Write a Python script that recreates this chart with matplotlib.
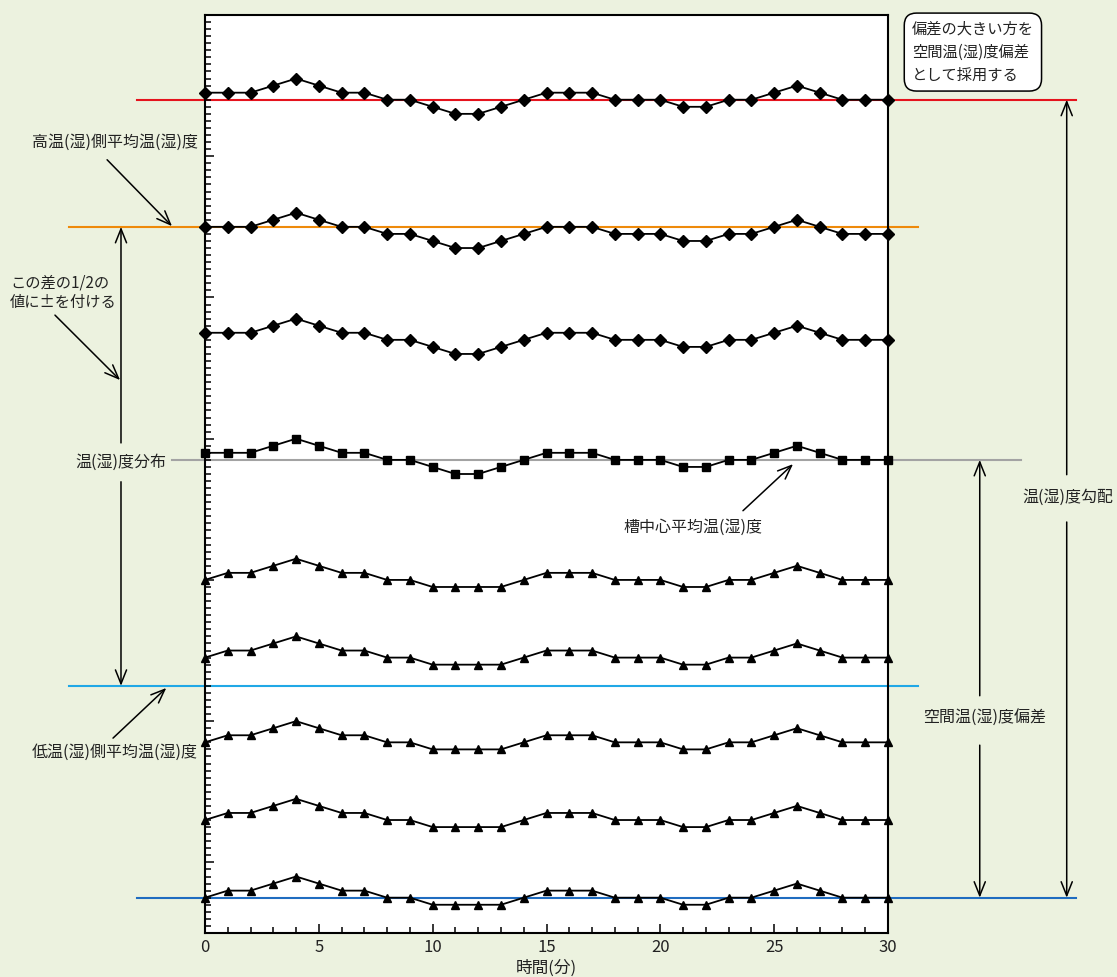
import matplotlib.pyplot as plt
from matplotlib.ticker import MultipleLocator

plt.rcParams['font.family'] = ['Noto Sans CJK JP', 'DejaVu Sans']

# time axis (minutes)
minutes = list(range(31))

# measured series, top to bottom (units = one minor tick)
diamond_1 = [119, 119, 119, 120, 121, 120, 119, 119, 118, 118, 117, 116, 116, 117, 118,
             119, 119, 119, 118, 118, 118, 117, 117, 118, 118, 119, 120, 119, 118, 118, 118]
diamond_2 = [100, 100, 100, 101, 102, 101, 100, 100, 99, 99, 98, 97, 97, 98, 99,
             100, 100, 100, 99, 99, 99, 98, 98, 99, 99, 100, 101, 100, 99, 99, 99]
diamond_3 = [85, 85, 85, 86, 87, 86, 85, 85, 84, 84, 83, 82, 82, 83, 84,
             85, 85, 85, 84, 84, 84, 83, 83, 84, 84, 85, 86, 85, 84, 84, 84]
square_1 = [68, 68, 68, 69, 70, 69, 68, 68, 67, 67, 66, 65, 65, 66, 67,
            68, 68, 68, 67, 67, 67, 66, 66, 67, 67, 68, 69, 68, 67, 67, 67]
triangle_1 = [50, 51, 51, 52, 53, 52, 51, 51, 50, 50, 49, 49, 49, 49, 50,
              51, 51, 51, 50, 50, 50, 49, 49, 50, 50, 51, 52, 51, 50, 50, 50]
triangle_2 = [39, 40, 40, 41, 42, 41, 40, 40, 39, 39, 38, 38, 38, 38, 39,
              40, 40, 40, 39, 39, 39, 38, 38, 39, 39, 40, 41, 40, 39, 39, 39]
triangle_3 = [27, 28, 28, 29, 30, 29, 28, 28, 27, 27, 26, 26, 26, 26, 27,
              28, 28, 28, 27, 27, 27, 26, 26, 27, 27, 28, 29, 28, 27, 27, 27]
triangle_4 = [16, 17, 17, 18, 19, 18, 17, 17, 16, 16, 15, 15, 15, 15, 16,
              17, 17, 17, 16, 16, 16, 15, 15, 16, 16, 17, 18, 17, 16, 16, 16]
triangle_5 = [5, 6, 6, 7, 8, 7, 6, 6, 5, 5, 4, 4, 4, 4, 5,
              6, 6, 6, 5, 5, 5, 4, 4, 5, 5, 6, 7, 6, 5, 5, 5]

# reference levels
level_max = 118
level_high = 100
level_center = 67
level_low = 35
level_min = 5

xticks = [0, 5, 10, 15, 20, 25, 30]

bg = '#ECF2DF'
txt_clr = '#222222'
fig = plt.figure(figsize=(11.17, 9.77), dpi=100, facecolor=bg)
ax = fig.add_axes([205 / 1117, 44 / 977, 683 / 1117, 918 / 977])
ax.set_facecolor('white')

# reference lines, running out of the axes
def ref_line(level, x0, x1, clr):
    ax.plot([x0, x1], [level, level], color=clr, lw=1.5, clip_on=False, zorder=1)

ref_line(level_max, -3.0, 38.25, '#E5131D')
ref_line(level_high, -5.97, 31.32, '#EE8A0A')
ref_line(level_center, -1.45, 35.84, '#A3A3A3')
ref_line(level_low, -5.97, 31.32, '#20A8E6')
ref_line(level_min, -3.0, 38.25, '#1F6CC0')

series = [
    (diamond_1, 'D', 6), (diamond_2, 'D', 6), (diamond_3, 'D', 6),
    (square_1, 's', 5.5),
    (triangle_1, '^', 6), (triangle_2, '^', 6), (triangle_3, '^', 6),
    (triangle_4, '^', 6), (triangle_5, '^', 6),
]
for vals, mk, ms in series:
    ax.plot(minutes, vals, color='black', lw=1.3, marker=mk, markersize=ms,
            clip_on=False, zorder=3)

ax.set_xlim(0, 30)
ax.set_ylim(0, 130)
ax.set_xticks(xticks)
ax.xaxis.set_minor_locator(MultipleLocator(1))
ax.yaxis.set_major_locator(MultipleLocator(20, offset=10))
ax.yaxis.set_minor_locator(MultipleLocator(1))
ax.tick_params(axis='both', which='both', direction='in', width=1.1,
               top=False, right=False)
ax.tick_params(axis='both', which='major', length=6.5)
ax.tick_params(axis='both', which='minor', length=4.3)
ax.tick_params(axis='y', which='both', labelleft=False)
ax.tick_params(axis='x', labelsize=12, pad=4, labelcolor=txt_clr)
for s in ax.spines.values():
    s.set_linewidth(1.5)
ax.set_xlabel('時間(分)', fontsize=12, labelpad=3, color=txt_clr)

ap = dict(arrowstyle='->,head_length=1.0,head_width=0.4', color='black', lw=1.1,
          shrinkA=0, shrinkB=0, mutation_scale=10)

def note(txt, xy, ha='center', size=11.5):
    ax.annotate(txt, xy=xy, xytext=xy, fontsize=size, ha=ha, va='center',
                color=txt_clr, annotation_clip=False)

def arrow(tail, head):
    ax.annotate('', xy=head, xytext=tail, arrowprops=ap, annotation_clip=False)

# labels with diagonal pointers
note('高温(湿)側平均温(湿)度', (-3.95, 111.9))
arrow((-4.30, 109.5), (-1.45, 100.1))
note('この差の1/2の\n値に±を付ける', (-8.57, 90.7), ha='left', size=11)
arrow((-6.59, 87.5), (-3.73, 78.3))
note('低温(湿)側平均温(湿)度', (-3.95, 25.6))
arrow((-4.04, 27.6), (-1.70, 34.7))
note('槽中心平均温(湿)度', (21.43, 57.5))
arrow((23.63, 59.8), (25.83, 66.4))

# vertical span arrows with a gap for their label
def span(x, top, bottom, gap_top, gap_bot):
    arrow((x, gap_top), (x, top))
    arrow((x, gap_bot), (x, bottom))

span(-3.69, level_high, level_low, 69.4, 63.9)
note('温(湿)度分布', (-3.69, 66.7))
span(34.03, level_center, level_min, 33.6, 26.6)
note('空間温(湿)度偏差', (34.25, 30.6))
span(37.85, level_max, level_min, 64.9, 58.2)
note('温(湿)度勾配', (37.9, 61.7))

# boxed note
ax.text(31.05, 124.75, '偏差の大きい方を\n空間温(湿)度偏差\nとして採用する',
        fontsize=11, ha='left', va='center', linespacing=1.45, clip_on=False,
        color=txt_clr,
        bbox=dict(boxstyle='round,pad=0.5,rounding_size=0.8', fc='white',
                  ec='black', lw=1.1))

fig.savefig('out.png', dpi=100, facecolor=bg)
